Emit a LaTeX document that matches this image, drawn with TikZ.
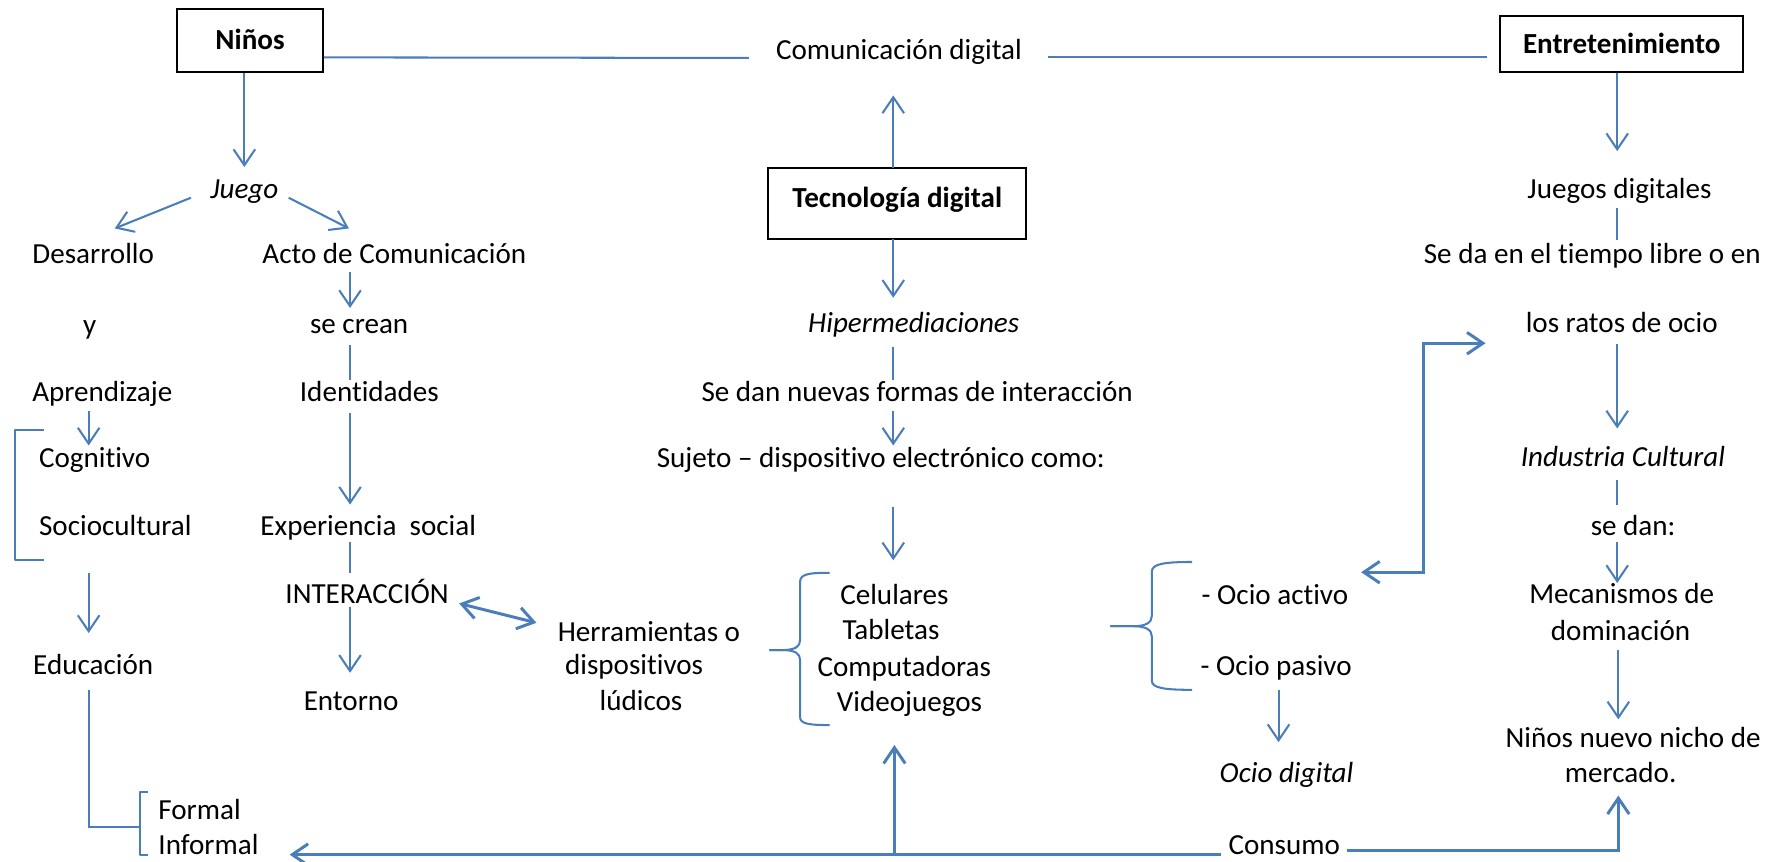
\documentclass[tikz,border=0pt]{standalone}
\usepackage{fontspec}
\setmainfont{Carlito}[Ligatures=NoCommon]
\usetikzlibrary{arrows.meta,calc}
\definecolor{lblue}{RGB}{74,126,187}
\newcommand\mysize{\fontsize{12.8pt}{15.6pt}\selectfont}
\begin{document}
\begin{tikzpicture}[x=0.5pt,y=-0.5pt,
  txt/.style={inner sep=0pt, text height=10pt, text depth=1.7pt, font=\mysize},
  itx/.style={txt, font=\mysize\itshape},
  box/.style={draw=black, line width=0.9pt, inner sep=0pt, text height=10pt, text depth=1.7pt, font=\mysize\bfseries},
  conn/.style={draw=lblue, line width=0.9pt},
  thk/.style={draw=lblue, line width=1.3pt},
  tip/.style={-{Straight Barb[length=7pt,width=9.5pt]}},
  arr/.style={conn, tip},
  arrt/.style={thk, tip},
  brk/.style={conn, line join=round}]
\useasboundingbox (0,0) rectangle (1568,758);
\fill[white] (0,0) rectangle (1568,758);

% ---------- nodes ----------
\node[box, minimum width=64pt, minimum height=27.5pt] (ninos) at (220,35.5) {Niños};
\node[txt] (comdig) at (791,44) {Comunicación digital};
\node[box, minimum width=107pt, minimum height=24.5pt] (entret) at (1427,38.5) {Entretenimiento};
\node[itx] (juego) at (215,166) {Juego};
\node[box, minimum width=113.5pt, minimum height=31pt, text depth=6.7pt] (tec) at (789.5,179) {Tecnología digital};
\node[txt] (juegosd) at (1425,166) {Juegos digitales};
\node[txt] (desarrollo) at (82,224) {Desarrollo};
\node[txt] (acto) at (347,224) {Acto de Comunicación};
\node[txt] (seda) at (1401,224) {Se da en el tiempo libre o en};
\node[txt] (yy) at (79,286) {y};
\node[txt] (secrean) at (316,285) {se crean};
\node[itx] (hiper) at (804,284) {Hipermediaciones};
\node[txt] (ratos) at (1427,284) {los ratos de ocio};
\node[txt] (aprend) at (90,345) {Aprendizaje};
\node[txt] (ident) at (325,345) {Identidades};
\node[txt] (nuevas) at (807,345) {Se dan nuevas formas de interacción};
\node[txt, anchor=west] (cogn) at (34,403) {Cognitivo};
\node[txt] (sujeto) at (775,403) {Sujeto – dispositivo electrónico como:};
\node[itx] (industria) at (1428,402) {Industria Cultural};
\node[txt, anchor=west] (socio) at (34,463) {Sociocultural};
\node[txt] (exper) at (324,463) {Experiencia\ \ social};
\node[txt] (sedan) at (1437,463) {se dan:};
\node[txt] (interac) at (323,523) {INTERACCIÓN};
\node[txt, anchor=west] (celulares) at (739,523.5) {Celulares};
\node[txt, anchor=west] (ocioact) at (1057,523.5) {- Ocio activo};
\node[txt] (mecan) at (1427,523) {Mecanismos de};
\node[txt] (herr) at (571,556) {Herramientas o};
\node[txt, anchor=west] (tabletas) at (741,554) {Tabletas};
\node[txt] (domin) at (1426,555) {dominación};
\node[txt] (educ) at (82,585) {Educación};
\node[txt] (dispos) at (558,585) {dispositivos};
\node[txt, anchor=west] (compu) at (719,587) {Computadoras};
\node[txt, anchor=west] (ociopas) at (1056,586) {- Ocio pasivo};
\node[txt] (entorno) at (309,617) {Entorno};
\node[txt] (ludicos) at (564,617) {lúdicos};
\node[txt, anchor=west] (video) at (736,617.5) {Videojuegos};
\node[txt] (ninosn) at (1437,649) {Niños nuevo nicho de};
\node[txt] (mercado) at (1426,680) {mercado.};
\node[itx] (ociodig) at (1132,680) {Ocio digital};
\node[txt, anchor=west] (formal) at (139,713) {Formal};
\node[txt, anchor=west] (informal) at (139,744) {Informal};
\node[txt] (consumo) at (1130,744) {Consumo};

% ---------- top row ----------
\draw[conn] ($(ninos.east)+(0,15)$) -- ($(comdig)+(-132,7)$);
\draw[conn] ($(comdig)+(131,6)$) -- ($(entret.west)+(-11,11.5)$);

% ---------- left branch ----------
\draw[arr] (ninos.south -| juego) -- ($(juego)+(0,-19)$);
\draw[arr] ($(juego)+(-47,8)$) -- ($(desarrollo)+(19,-23)$);
\draw[arr] ($(juego)+(39,8)$) -- ($(acto)+(-40,-23)$);
\draw[arr] ($(acto)+(-39,15)$) -- ($(secrean)+(-8,-14)$);
\draw[conn] ($(secrean)+(-8,19)$) -- ($(ident)+(-17,-11)$);
\draw[arr] ($(ident)+(-17,18)$) -- ($(exper)+(-16,-19)$);
\draw[conn] ($(exper)+(-16,14)$) -- ($(interac)+(-15,-19)$);
\draw[arr] ($(interac)+(-15,11)$) -- ($(entorno)+(-1,-25)$);
\draw[thk, {Straight Barb[length=7pt,width=9.5pt]}-{Straight Barb[length=7pt,width=9.5pt]}]
  ($(interac)+(81,8)$) -- ($(herr)+(-99,-8)$);

\draw[arr] ($(aprend)+(-12,17)$) -- ($(cogn.west)+(44,-11)$);
\draw[brk] ($(cogn.west)+(5,-25)$) -- ($(cogn.west)+(-21,-25)$) -- ($(socio.west)+(-21,30)$) -- ($(socio.west)+(5,30)$);
\draw[arr] ($(socio.west)+(44,41)$) -- ($(educ)+(-4,-28)$);
\draw[conn] ($(educ)+(-4,22)$) |- ($(informal.west)+(-16,-16)$);
\draw[brk] ($(formal.west)+(-9,-16)$) -- ($(formal.west)+(-16,-16)$) -- ($(informal.west)+(-16,8)$) -- ($(informal.west)+(-9,8)$);

% ---------- centre ----------
\draw[arr] ($(tec)+(-3.5,-31)$) -- ($(comdig)+(-5,40)$);
\draw[arr] ($(tec)+(-3.5,31)$) -- ($(hiper)+(-18,-22)$);
\draw[conn] ($(hiper)+(-18,21)$) -- ($(nuevas)+(-21,-11)$);
\draw[arr] ($(nuevas)+(-21,17)$) -- ($(sujeto)+(11,-11)$);
\draw[arr] ($(sujeto)+(11,43)$) -- ($(celulares.west)+(47,-30.5)$);

% brace around devices
\draw[brk] (730,504) .. controls (712,504) and (704,505) .. (704,512) -- (704,563)
  .. controls (704,569) and (700,571.5) .. (690,572) -- (677,572);
\draw[brk] (677,572) -- (690,572) .. controls (700,572.5) and (704,575) .. (704,581)
  -- (704,631) .. controls (704,637) and (712,638) .. (730,638);

% brace around ocio
\draw[brk] (1049,494.5) .. controls (1025,494.5) and (1013.5,496) .. (1013.5,503) -- (1013.5,542)
  .. controls (1013.5,548) and (1008,551) .. (997,551) -- (977,551);
\draw[brk] (977,551) -- (997,551) .. controls (1008,551) and (1013.5,554) .. (1013.5,560)
  -- (1013.5,599) .. controls (1013.5,605.5) and (1025,607) .. (1049,607);

\draw[arr] ($(ociopas.west)+(69,21)$) -- ($(ociodig)+(-7,-27)$);

% ---------- right branch ----------
\draw[arr] ($(entret.south)+(-4,0)$) -- ($(juegosd)+(-2,-33)$);
\draw[conn] ($(juegosd)+(-2,17)$) -- ($(seda)+(22,-13)$);
\draw[arr] ($(ratos)+(-4,19)$) -- ($(industria)+(-5,-25)$);
\draw[conn] ($(industria)+(-5,20)$) -- ($(sedan)+(-14,-19)$);
\draw[arr] ($(sedan)+(-14,14)$) -- ($(mecan)+(-4,-10)$);
\draw[arr] ($(domin)+(-2,17)$) -- ($(ninosn)+(-13,-16)$);

\draw[thk, {Straight Barb[length=7pt,width=9.5pt]}-{Straight Barb[length=7pt,width=9.5pt]}]
  ($(ocioact.east)+(11,-20)$) -| ($(ratos.west)+(-90,18)$) -- ($(ratos.west)+(-35,18)$);

% ---------- bottom ----------
\draw[arrt] ($(consumo)+(-56,8)$) -- ($(informal.east)+(27,8)$);
\draw[arrt] ($(consumo)+(-343,8)$) -- ($(video.west)+(51,38)$);
\draw[arrt] ($(consumo)+(55,4)$) -| ($(mercado)+(-2,20)$);
\end{tikzpicture}
\end{document}
